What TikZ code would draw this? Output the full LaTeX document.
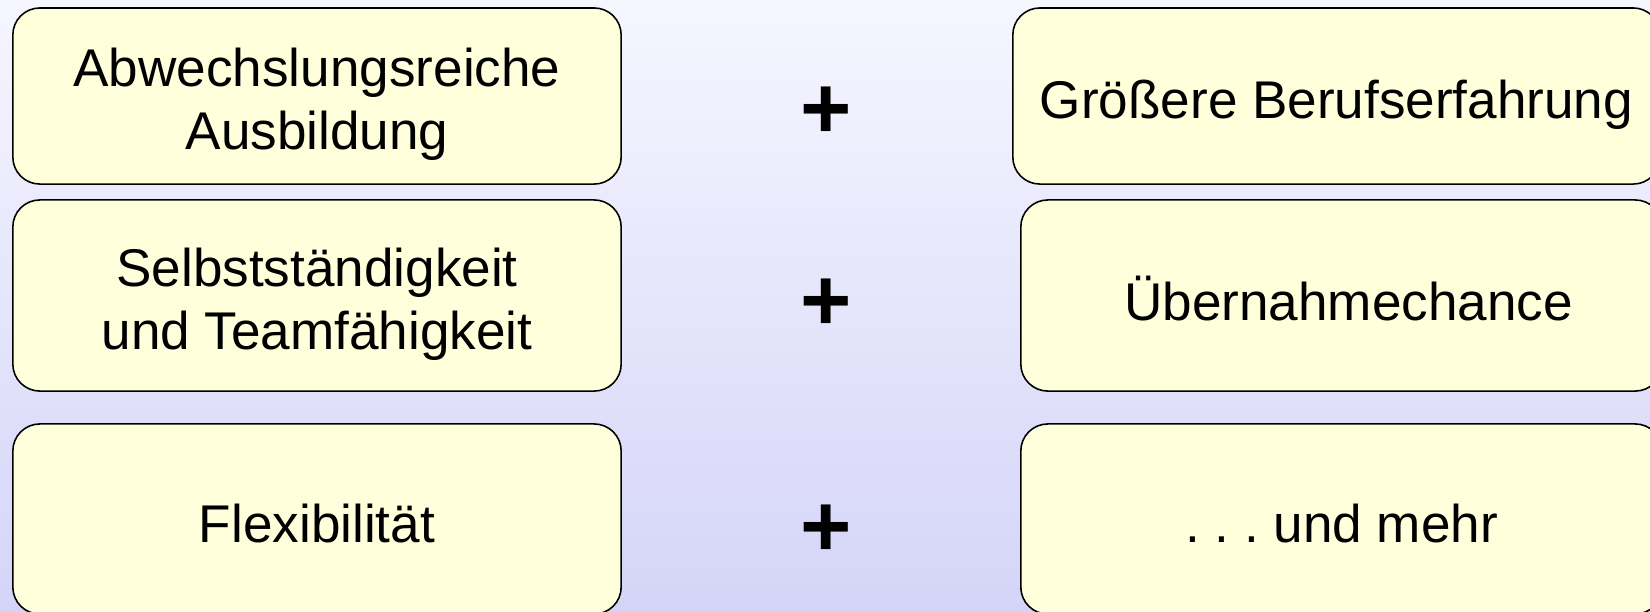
\documentclass[tikz,border=0pt]{standalone}
\usepackage{fontspec}
\setmainfont{Liberation Sans}
\usetikzlibrary{positioning}
\definecolor{bgtop}{HTML}{F6F6FF}
\definecolor{bgbottom}{HTML}{D4D4F8}
\definecolor{cardfill}{HTML}{FFFFDC}
\frenchspacing

\begin{document}
\begin{tikzpicture}[x=0.01cm, y=-0.01cm,
  card/.style={draw=black, line width=0.45pt, fill=cardfill, rounded corners=0.27cm, inner sep=0pt},
  cardtext/.style={align=center, inner sep=0pt, font=\fontsize{15.1}{17.9}\selectfont},
  plussign/.style={inner sep=0pt, font=\fontsize{25}{25}\selectfont\bfseries}]
  % Background
  \useasboundingbox (0,0) rectangle (1650,611);
  \shade[top color=bgtop, bottom color=bgbottom] (0,0) rectangle (1650,611);

  % Left column
  \node[card, minimum width=6.08cm, minimum height=1.76cm] (ausbildungbox) at (317,96) {};
  \node[card, minimum width=6.08cm, minimum height=1.91cm] (teamfaehigbox) at (317,295.5) {};
  \node[card, minimum width=6.08cm, minimum height=1.90cm] (flexibelbox) at (317,519) {};
  \node[cardtext] (ausbildung) at (317,104.4) {Abwechslungsreiche\\Ausbildung};
  \node[cardtext] (teamfaehig) at (317,304) {Selbstständigkeit\\und Teamfähigkeit};
  \node[cardtext] (flexibel) at (317,523.2) {Flexibilität};

  % Right column (runs past the right edge)
  \node[card, minimum width=6.47cm, minimum height=1.76cm] (erfahrungbox) at (1336.5,96) {};
  \node[card, minimum width=6.41cm, minimum height=1.91cm] (uebernahmebox) at (1341.5,295.5) {};
  \node[card, minimum width=6.41cm, minimum height=1.90cm] (mehrbox) at (1341.5,519) {};
  \node[cardtext] (erfahrung) at (1336.5,104.4) {Größere Berufserfahrung};
  \node[cardtext] (uebernahme) at (1348.5,298.7) {Übernahmechance};
  \node[cardtext] (mehr) at (1341.5,523.2) {. . . und mehr};

  % Plus signs
  \foreach \row/\yy in {1/113, 2/305, 3/531}
    \node[plussign] (plus\row) at (826,\yy) {+};
\end{tikzpicture}
\end{document}
